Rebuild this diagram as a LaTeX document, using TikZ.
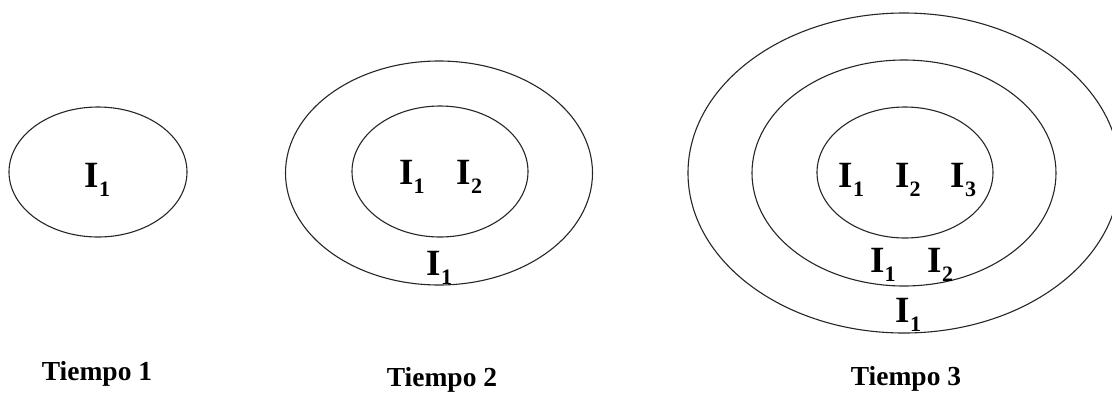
\documentclass[tikz,border=0pt]{standalone}
\usepackage{fontspec}
\setmainfont{Liberation Serif}
\newcommand{\Ilab}[1]{\textbf{I}\raisebox{-9pt}{\fontsize{22}{22}\selectfont\textbf{#1}}}
\begin{document}
\begin{tikzpicture}[x=1pt,y=-1pt,
  ring/.style={line width=1.1pt, draw=black!85},
  ilabel/.style={inner sep=0pt, font=\fontsize{37}{37}\selectfont},
  tlabel/.style={inner sep=0pt, anchor=base, font=\fontsize{27.5}{27.5}\selectfont\bfseries}]
\useasboundingbox (0,0) rectangle (1112,392);
% centres
\coordinate (c1) at (98,172);
\coordinate (c2o) at (439,173);
\coordinate (c2i) at (440,171.5);
\coordinate (c3) at (904,173);
\coordinate (c3i) at (905,172.5);
% Tiempo 1
\draw[ring] (c1) ellipse [x radius=89, y radius=65];
\node[ilabel] (t1a) at (97.5,180) {\Ilab{1}};
% Tiempo 2
\draw[ring] (c2o) ellipse [x radius=153.5, y radius=112];
\draw[ring] (c2i) ellipse [x radius=88, y radius=65.5];
\node[ilabel] (t2a) at (412,176.5) {\Ilab{1}};
\node[ilabel] (t2b) at (469.5,176.5) {\Ilab{2}};
\node[ilabel] (t2c) at (439.5,267.5) {\Ilab{1}};
% Tiempo 3
\draw[ring] (c3) ellipse [x radius=216, y radius=160];
\draw[ring] (c3) ellipse [x radius=152, y radius=113];
\draw[ring] (c3i) ellipse [x radius=88, y radius=65.5];
\node[ilabel] (t3a) at (851.5,179.5) {\Ilab{1}};
\node[ilabel] (t3b) at (908,179.5) {\Ilab{2}};
\node[ilabel] (t3c) at (963.5,179.5) {\Ilab{3}};
\node[ilabel] (t3d) at (883,264.5) {\Ilab{1}};
\node[ilabel] (t3e) at (940.5,264.5) {\Ilab{2}};
\node[ilabel] (t3f) at (908.5,315) {\Ilab{1}};
% captions
\node[tlabel] (cap1) at (97,380) {Tiempo 1};
\node[tlabel] (cap2) at (442,386) {Tiempo 2};
\node[tlabel] (cap3) at (906,385) {Tiempo 3};
\end{tikzpicture}
\end{document}
